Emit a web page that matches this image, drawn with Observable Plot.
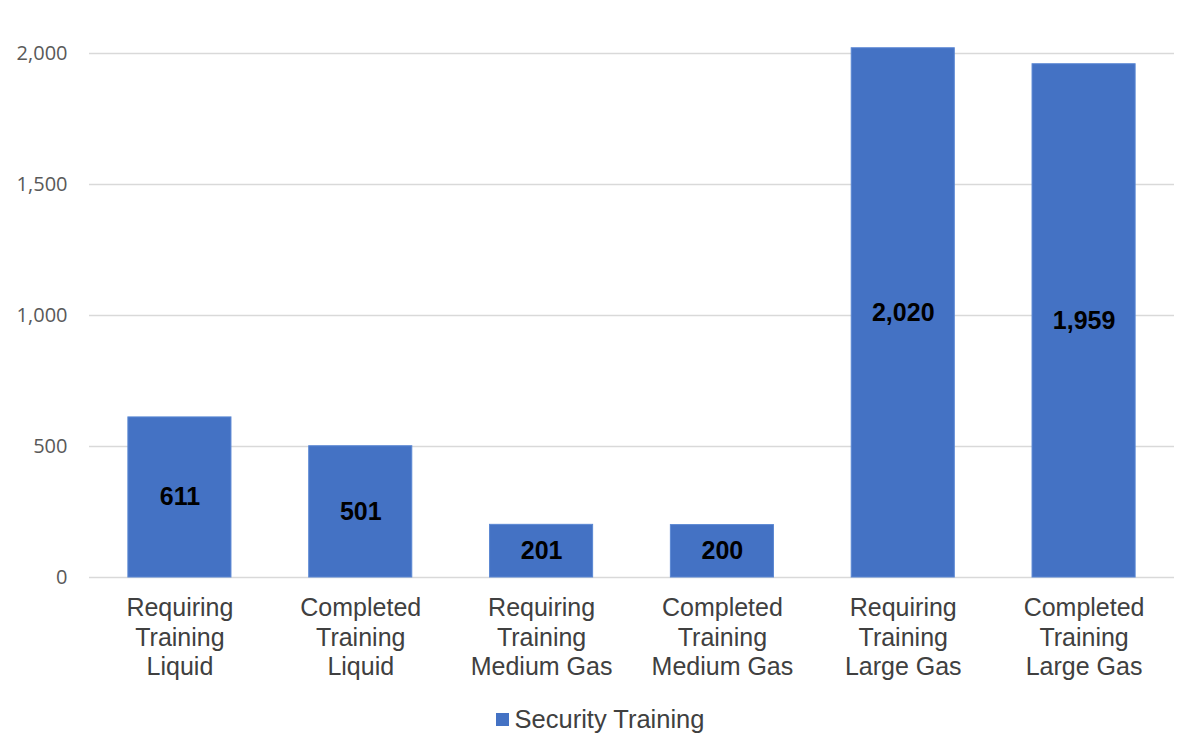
<!DOCTYPE html>
<html>
<head>
<meta charset="utf-8">
<script src="https://cdn.jsdelivr.net/npm/d3@7"></script>
<script src="https://cdn.jsdelivr.net/npm/@observablehq/plot@0.6"></script>
<style>
  body { margin: 0; background: #fff; }
  #legend { width: 1200px; height: 58px; display: flex; justify-content: center; align-items: center;
    font-family: "Liberation Sans", Arial, sans-serif; font-size: 25.5px; color: #404040; }
  #legend .sw { width: 13px; height: 13px; background: #4472C4; margin-right: 6px; }
</style>
</head>
<body>
<div id="chart"></div>
<div id="legend"><span class="sw"></span><span>Security Training</span></div>
<script>
const categories = [
  "Requiring\nTraining\nLiquid",
  "Completed\nTraining\nLiquid",
  "Requiring\nTraining\nMedium Gas",
  "Completed\nTraining\nMedium Gas",
  "Requiring\nTraining\nLarge Gas",
  "Completed\nTraining\nLarge Gas"
];
const values = [611, 501, 201, 200, 2020, 1959];
const seriesName = "Security Training";
const yTicks = [0, 500, 1000, 1500, 2000];

const data = categories.map((c, i) => ({category: c, value: values[i]}));
const fmt = d3.format(",");

const chart = Plot.plot({
  width: 1200,
  height: 690,
  marginLeft: 89,
  marginRight: 26,
  marginTop: 53,
  marginBottom: 113,
  style: {fontFamily: "'Liberation Sans', Arial, sans-serif", background: "#fff"},
  x: {domain: categories, paddingInner: 0.43, paddingOuter: 0.215, round: false, label: null},
  y: {domain: [0, 2000], label: null},
  marks: [
    Plot.gridY(yTicks, {stroke: "#d9d9d9", strokeOpacity: 1, strokeWidth: 1.3}),
    Plot.axisY(yTicks, {tickSize: 0, tickPadding: 22, tickFormat: fmt, fontSize: 20,
      fill: "#595959", fontFamily: "'Open Sans', sans-serif", label: null}),
    Plot.axisX({tickSize: 0, tickPadding: 18, fontSize: 25, fill: "#404040", label: null,
      lineHeight: 1.17}),
    Plot.barY(data, {x: "category", y: "value", fill: "#4472C4", stroke: "#5a87d3", strokeWidth: 1}),
    Plot.text(data, {x: "category", y: d => d.value / 2, text: d => fmt(d.value),
      fill: "#000", fontWeight: "bold", fontSize: 25})
  ]
});
document.getElementById("chart").appendChild(chart);
</script>
</body>
</html>
